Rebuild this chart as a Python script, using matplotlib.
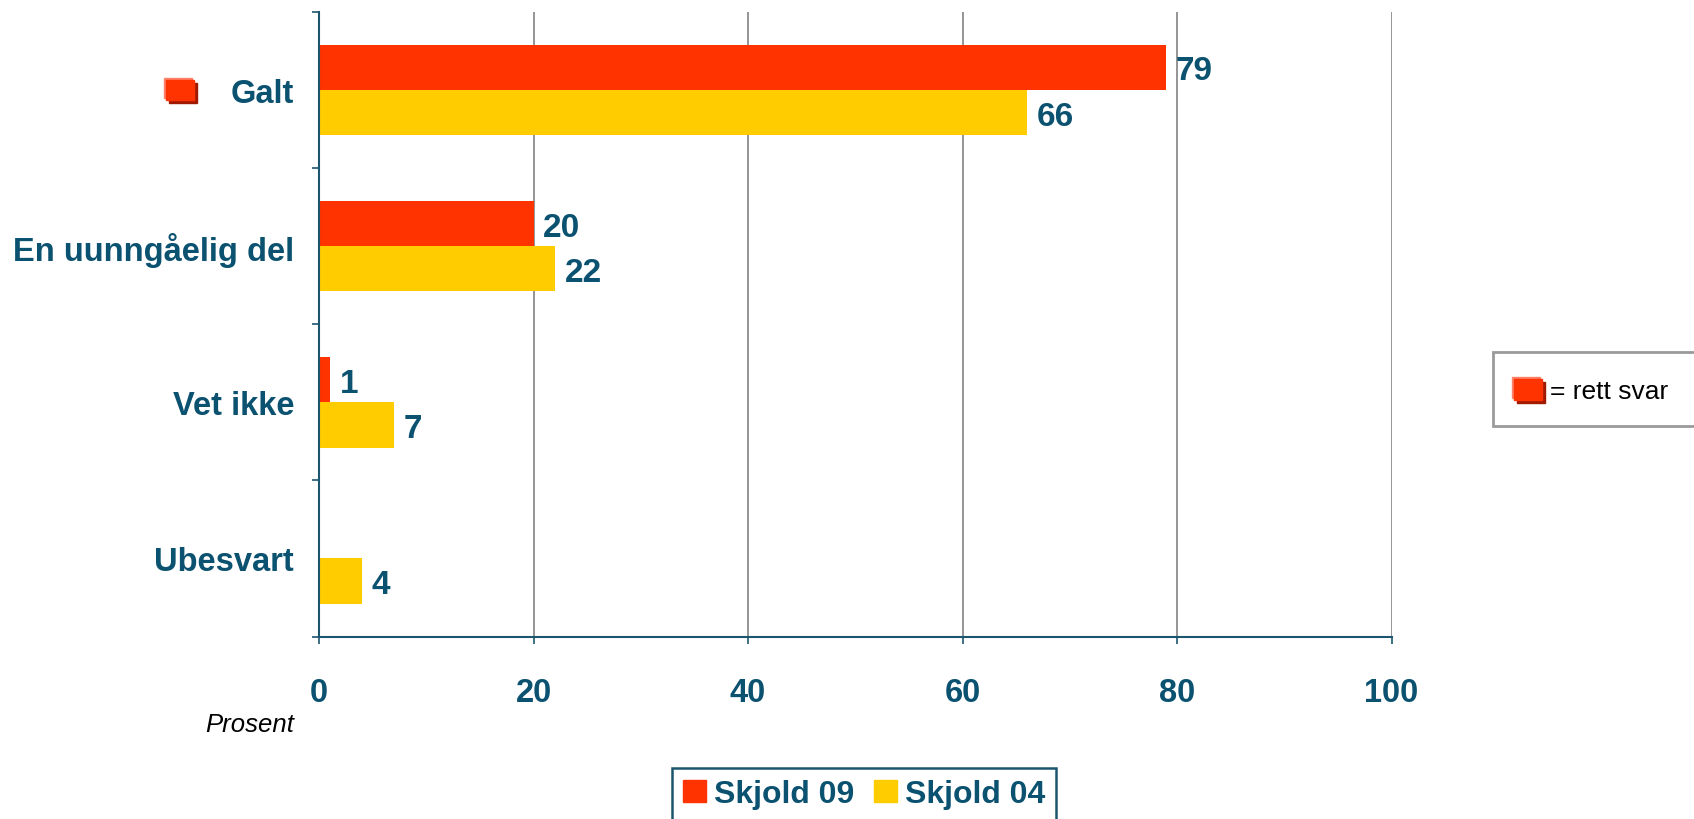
import numpy as np
import matplotlib.pyplot as plt
from matplotlib.patches import Rectangle, Patch

plt.rcParams['font.family'] = ['Liberation Sans', 'DejaVu Sans']

categories = ['Galt', 'En uunngåelig del', 'Vet ikke', 'Ubesvart']
skjold09 = [79, 20, 1, 0]
skjold04 = [66, 22, 7, 4]
series_names = ['Skjold 09', 'Skjold 04']
xticks = [0, 20, 40, 60, 80, 100]

RED = '#FF3300'
YELLOW = '#FFCC00'
TEAL = '#0B5170'
SPINE = '#1B5670'

W, H = 1694, 820
fig = plt.figure(figsize=(W / 100, H / 100), dpi=100)
ax = fig.add_axes([319 / W, 1 - 637.5 / H, (1391.5 - 319) / W, (637.5 - 13) / H])

y = np.arange(len(categories))
bh = 0.29
b1 = ax.barh(y - bh / 2, skjold09, height=bh, color=RED, zorder=3)
b2 = ax.barh(y + bh / 2, skjold04, height=bh, color=YELLOW, zorder=3)

# value labels
for bars, vals in [(b1, skjold09), (b2, skjold04)]:
    for rect, v in zip(bars, vals):
        if v == 0:
            continue
        ax.annotate(str(v), (rect.get_width(), rect.get_y() + rect.get_height() / 2),
                    xytext=(7, -2.5), textcoords='offset points', va='center', ha='left',
                    fontsize=24, fontweight='bold', color=TEAL)

ax.set_xlim(0, 100)
ax.set_ylim(len(categories) - 0.5, -0.5)
ax.set_xticks(xticks)
ax.set_xticklabels([str(t) for t in xticks])
ax.set_yticks(y)
ax.set_yticklabels(categories)
ax.set_yticks(np.arange(len(categories) + 1) - 0.5, minor=True)

ax.tick_params(axis='x', length=5, width=1.2, color=SPINE, pad=24,
               labelsize=23.5, labelcolor=TEAL)
ax.tick_params(axis='y', which='major', length=0, pad=18, labelsize=23.5, labelcolor=TEAL)
ax.tick_params(axis='y', which='minor', length=5, width=1.2, color=SPINE)
for lab in ax.get_xticklabels() + ax.get_yticklabels():
    lab.set_fontweight('bold')

ax.grid(axis='x', color='#8C8C8C', linewidth=1.3, zorder=0)
for s in ['top', 'right']:
    ax.spines[s].set_visible(False)
for s in ['left', 'bottom']:
    ax.spines[s].set_color(SPINE)
    ax.spines[s].set_linewidth(1.5)
    ax.spines[s].set_zorder(4)

fig.text(294 / W, 1 - 725 / H, 'Prosent', ha='right', va='center',
         fontsize=18.5, style='italic', color='black')


def px_rect(x0, y0, x1, y1, **kw):
    return Rectangle((x0 / W, 1 - y1 / H), (x1 - x0) / W, (y1 - y0) / H,
                     transform=fig.transFigure, **kw)


def flag(x0, y0, w, h):
    fig.add_artist(px_rect(x0 + 3, y0 + 3, x0 + w + 3, y0 + h + 3, color='#A11A00'))
    fig.add_artist(px_rect(x0 - 2, y0 - 2, x0 + w - 2, y0 + h - 2, color='#FF8068'))
    fig.add_artist(px_rect(x0, y0, x0 + w, y0 + h, color=RED))


flag(166, 81, 28, 20)

# "rett svar" box
fig.add_artist(px_rect(1493, 353, 1700, 427, facecolor='white',
                       edgecolor='#9A9A9A', linewidth=2))
flag(1514, 380, 28, 21)
fig.text(1550 / W, 1 - 392 / H, '= rett svar', ha='left', va='center',
         fontsize=19, color='black')

handles = [Patch(color=RED), Patch(color=YELLOW)]
leg = fig.legend(handles, series_names, loc='upper center',
                 bbox_to_anchor=(864 / W, 1 - 769 / H), ncol=2, frameon=True,
                 fancybox=False, framealpha=1, edgecolor=SPINE,
                 handlelength=0.72, handleheight=0.66, handletextpad=0.25,
                 columnspacing=0.6, borderpad=0.35, borderaxespad=0,
                 prop={'size': 23, 'weight': 'bold'})
for t in leg.get_texts():
    t.set_color(TEAL)
leg.get_frame().set_linewidth(1.8)

fig.savefig('out.png', dpi=100)
